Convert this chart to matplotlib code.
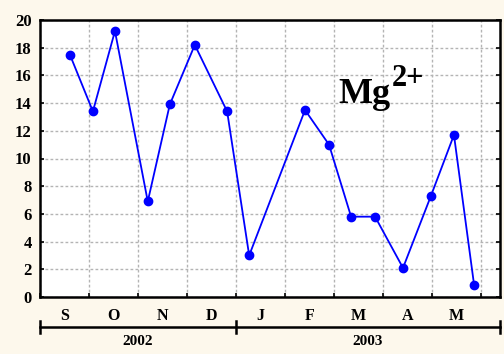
import matplotlib.pyplot as plt
import numpy as np

plt.rcParams['font.family'] = 'Liberation Serif'
plt.rcParams['font.weight'] = 'bold'

# sampling time in months since 1 Sep 2002, and Mg2+ concentration
months = [0.61, 1.08, 1.53, 2.20, 2.65, 3.16, 3.82, 4.27,
          5.41, 5.90, 6.35, 6.84, 7.41, 7.98, 8.45, 8.86]
mg = [17.5, 13.4, 19.2, 6.9, 13.9, 18.2, 13.4, 3.0,
      13.5, 11.0, 5.8, 5.8, 2.1, 7.3, 11.7, 0.9]

month_labels = ['S', 'O', 'N', 'D', 'J', 'F', 'M', 'A', 'M']
years = ['2002', '2003']
year_edges = [0, 4, 9.39]

fig = plt.figure(figsize=(5.04, 3.54), dpi=100)
fig.patch.set_facecolor('#fdf8ec')
ax = fig.add_axes([40 / 504, 1 - 297 / 354, 460 / 504, 277 / 354])
ax.set_facecolor('white')

ax.plot(months, mg, color='#0000ff', lw=1.3, marker='o', ms=6, zorder=3)

ax.set_xlim(0, year_edges[-1])
ax.set_ylim(0, 20)
ax.set_yticks(np.arange(0, 21, 2))
ax.set_xticks(np.arange(0, 10))
ax.set_xticklabels([])
ax.set_xticks(np.arange(len(month_labels)) + 0.5, minor=True)
ax.set_xticklabels(month_labels, minor=True)
ax.tick_params(axis='x', which='minor', length=0, pad=8, labelsize=11.5)
ax.tick_params(axis='x', which='major', direction='in', length=3, width=1.2)
ax.tick_params(axis='y', direction='in', length=3, width=1.2, right=True,
               labelsize=12, pad=6)
ax.grid(True, which='major', color='#b4b4b4', ls=(0, (2, 1.6)), lw=1)
for sp in ax.spines.values():
    sp.set_linewidth(1.8)

# year brackets below the month labels
trans = ax.get_xaxis_transform()
yb = -0.108
ax.plot([year_edges[0], year_edges[-1]], [yb, yb], color='black', lw=1.8,
        transform=trans, clip_on=False)
for e in year_edges:
    ax.plot([e, e], [yb - 0.022, yb + 0.022], color='black', lw=1.8,
            transform=trans, clip_on=False)
for i, yr in enumerate(years):
    xc = (year_edges[i] + year_edges[i + 1]) / 2
    ax.text(xc, -0.162, yr, transform=trans, ha='center', va='center',
            fontsize=11, fontweight='bold')

ax.text(6.1, 14.0, 'Mg', fontsize=26, va='baseline', ha='left')
ax.text(7.18, 15.2, '2+', fontsize=22, va='baseline', ha='left')

fig.savefig('out.png', dpi=100, facecolor=fig.get_facecolor())
